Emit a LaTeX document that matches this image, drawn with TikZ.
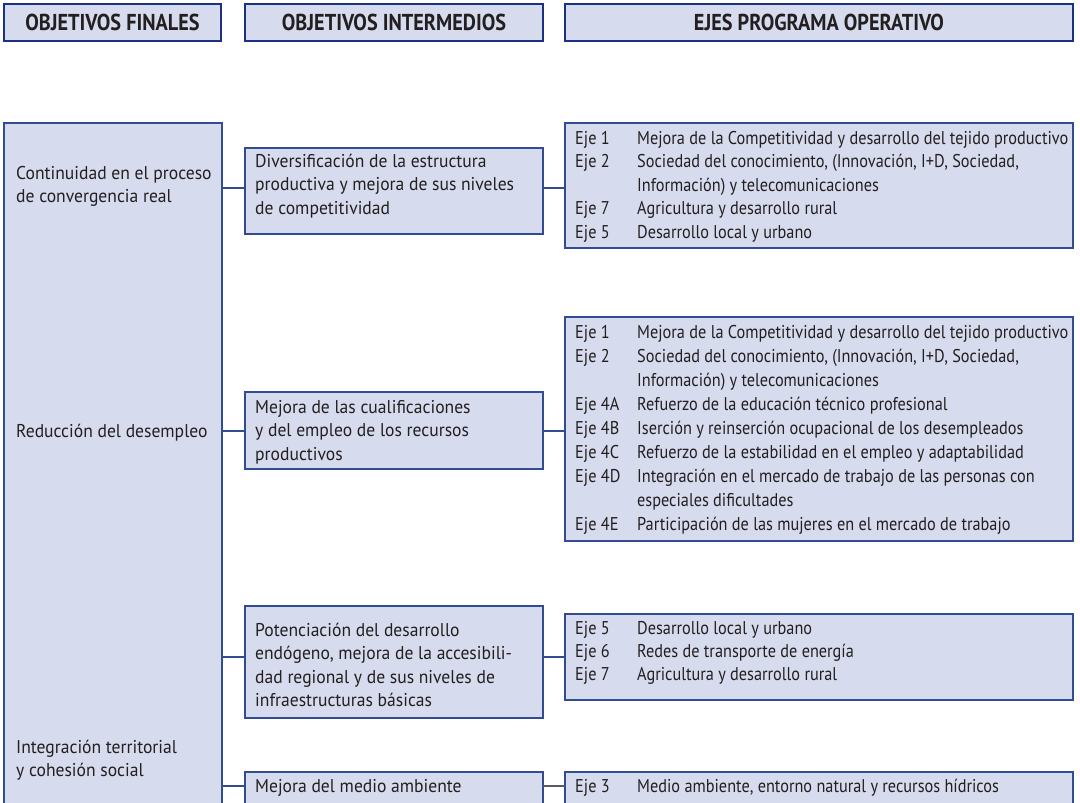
\documentclass[tikz,border=0pt]{standalone}
\usepackage{fontspec}
\setmainfont{PT Sans}[FakeStretch=0.88]
\newfontfamily\wideff{PT Sans}[FakeStretch=0.95]
\definecolor{boxfill}{RGB}{214,219,238}
\definecolor{boxline}{RGB}{50,75,145}
\definecolor{hdline}{RGB}{28,48,128}
\definecolor{txt}{RGB}{35,31,32}
\definecolor{greyline}{RGB}{90,90,100}
\newcommand\ej[1]{\makebox[62pt][l]{#1}}
\newcommand\ind{\hspace*{62pt}}
\tikzset{
  box/.style={draw=boxline, line width=1.2pt, fill=boxfill, rectangle, inner sep=0pt, outer sep=0pt, anchor=north west},
  hdbox/.style={draw=hdline, line width=2pt, fill=boxfill, rectangle, inner sep=0pt, outer sep=0pt, anchor=north west,
    font=\fontsize{23}{26}\selectfont\bfseries, text=txt},
  body/.style={font=\wideff\fontsize{18.5}{23.5}\selectfont, text=txt, inner sep=0pt, anchor=base west, align=left},
  eje/.style={font=\fontsize{18.5}{23.5}\selectfont, text=txt, inner sep=0pt, anchor=base west, align=left},
  eje2/.style={eje, font=\fontsize{18.5}{24}\selectfont},
  eje3/.style={eje, font=\fontsize{18.5}{23}\selectfont},
  conn/.style={draw=boxline, line width=1.2pt},
  conng/.style={draw=greyline, line width=1.2pt}
}
\newcommand\bx[6]{\node[#1, minimum width={(#4-#2)*1pt}, minimum height={(#5-#3)*1pt}] (#6) at (#2,#3) {};}
\begin{document}
\begin{tikzpicture}[x=1pt,y=-1pt]
\useasboundingbox (0,0) rectangle (1080,803);
\clip (0,0) rectangle (1080,803);
% headers
\node[hdbox, minimum width=217pt, minimum height=37pt] (h1) at (4,4) {OBJETIVOS FINALES};
\node[hdbox, minimum width=298pt, minimum height=37pt] (h2) at (245,4) {OBJETIVOS INTERMEDIOS};
\node[hdbox, minimum width=508pt, minimum height=37pt] (h3) at (565,4) {EJES PROGRAMA OPERATIVO};
% left box
\bx{box}{4}{123}{222}{840}{L}
% (anchor = baseline of the last line)
\node[body] (l1) at (16,202.5) {Continuidad en el proceso\\de convergencia real};
\node[body] (l2) at (16,437) {Reducción del desempleo};
\node[body] (l3) at (16,776.5) {Integración territorial\\y cohesión social};
% middle boxes
\bx{box}{245}{148}{543}{234}{m1}
\bx{box}{245}{392}{543}{469}{m2}
\bx{box}{245}{606}{543}{718}{m3}
\bx{box}{245}{772}{543}{840}{m4}
\node[body] (mt1) at (255,214) {Diversificación de la estructura\\productiva y mejora de sus niveles\\de competitividad};
\node[body] (mt2) at (255,460) {Mejora de las cualificaciones\\y del empleo de los recursos\\productivos};
\node[body] (mt3) at (255,706.5) {Potenciación del desarrollo\\endógeno, mejora de la accesibili-\\dad regional y de sus niveles de\\infraestructuras básicas};
\node[body] (mt4) at (255,792) {Mejora del medio ambiente};
% right boxes
\bx{box}{565}{123}{1073}{248}{r1}
\bx{box}{565}{317}{1073}{541}{r2}
\bx{box}{565}{614}{1073}{700}{r3}
\bx{box}{565}{772}{1073}{840}{r4}
\node[eje] (rt1) at (575,238) {\ej{Eje 1}Mejora de la Competitividad y desarrollo del tejido productivo\\
\ej{Eje 2}Sociedad del conocimiento, (Innovación, I+D, Sociedad,\\
\ind Información) y telecomunicaciones\\
\ej{Eje 7}Agricultura y desarrollo rural\\
\ej{Eje 5}Desarrollo local y urbano};
\node[eje2] (rt2) at (575,530) {\ej{Eje 1}Mejora de la Competitividad y desarrollo del tejido productivo\\
\ej{Eje 2}Sociedad del conocimiento, (Innovación, I+D, Sociedad,\\
\ind Información) y telecomunicaciones\\
\ej{Eje 4A}Refuerzo de la educación técnico profesional\\
\ej{Eje 4B}Iserción y reinserción ocupacional de los desempleados\\
\ej{Eje 4C}Refuerzo de la estabilidad en el empleo y adaptabilidad\\
\ej{Eje 4D}Integración en el mercado de trabajo de las personas con\\
\ind especiales dificultades\\
\ej{Eje 4E}Participación de las mujeres en el mercado de trabajo};
\node[eje3] (rt3) at (575,680) {\ej{Eje 5}Desarrollo local y urbano\\
\ej{Eje 6}Redes de transporte de energía\\
\ej{Eje 7}Agricultura y desarrollo rural};
\node[eje] (rt4) at (575,792) {\ej{Eje 3}Medio ambiente, entorno natural y recursos hídricos};
% connector levels
\coordinate (c1) at (0,188);
\coordinate (c2) at (0,431);
\coordinate (c3) at (0,657);
\coordinate (c4) at (0,786);
\draw[conn] (L.east |- c1) -- (m1.west |- c1);
\draw[conn] (m1.east |- c1) -- (r1.west |- c1);
\draw[conn] (L.east |- c2) -- (m2.west |- c2);
\draw[conn] (m2.east |- c2) -- (r2.west |- c2);
\draw[conn] (L.east |- c3) -- (m3.west |- c3);
\draw[conn] (m3.east |- c3) -- (r3.west |- c3);
\draw[conn] (L.east |- c4) -- (m4.west |- c4);
\draw[conng] (m4.east |- c4) -- (r4.west |- c4);
\end{tikzpicture}
\end{document}
